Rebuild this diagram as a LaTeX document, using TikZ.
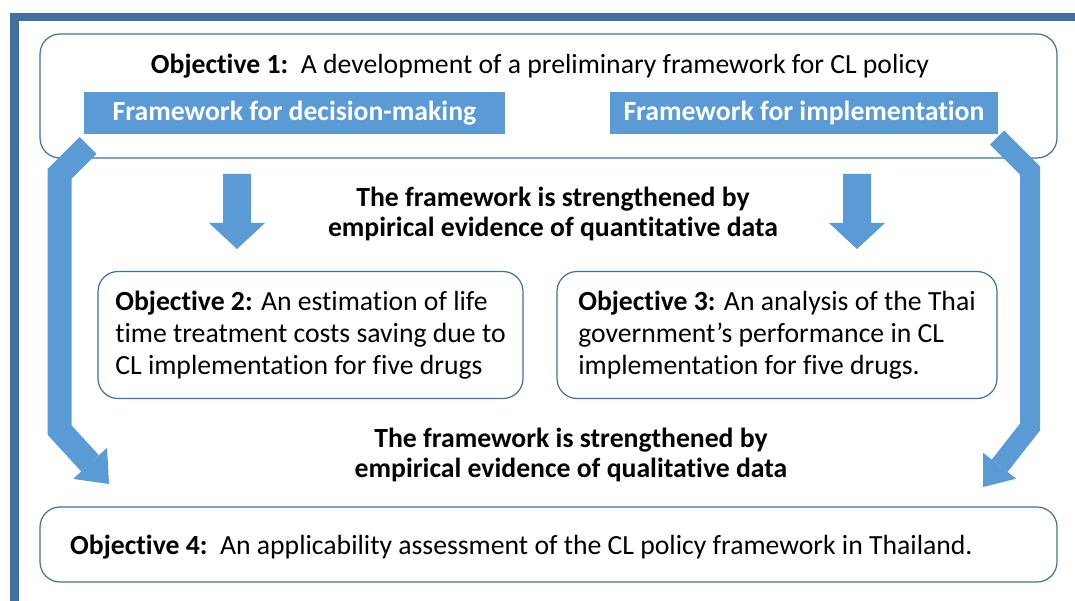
\documentclass[tikz,border=0pt]{standalone}
\usepackage{fontspec}
\setmainfont{Carlito}[Ligatures=NoCommon]
\usetikzlibrary{calc}
\definecolor{framec}{HTML}{41719C}
\definecolor{arrc}{HTML}{5B9BD5}
\definecolor{edgec}{HTML}{41719C}
\begin{document}
\begin{tikzpicture}[x=1pt,y=-1pt,
  objbox/.style={draw=edgec, line width=1.2pt, rounded corners=20pt, inner sep=0pt, fill=white},
  bluelabel/.style={fill=arrc, text=white, font=\bfseries\fontsize{27.7}{30}\selectfont, inner sep=0pt, text height=17pt, text depth=2pt},
  bodytxt/.style={font=\fontsize{27.7}{32}\selectfont, inner sep=0pt},
  midtxt/.style={font=\bfseries\fontsize{27.7}{30.5}\selectfont, align=center, inner sep=0pt},
  bentarrow/.style={draw=arrc, line join=miter, line cap=butt},
  downarrow/.pic={\fill[arrc] (-14,0) -- (14,0) -- (14,49) -- (28,49) -- (0,75) -- (-28,49) -- (-14,49) -- cycle;}
]
\useasboundingbox (0,0) rectangle (1075,601);
\fill[white] (0,0) rectangle (1075,601);
% frame bars
\fill[framec] (10,13) rectangle (1075,21);
\fill[framec] (10,13) rectangle (19,601);

% boxes
\node[objbox, minimum width=1017pt, minimum height=124pt] (obj1) at (548.5,96) {};
\node[bodytxt] (obj1t) at (540,66) {\textbf{Objective 1:}\ \ A development of a preliminary framework for CL policy};
\node[bluelabel, minimum width=421pt, minimum height=42pt] (fdm) at (294.5,113) {Framework for decision-making};
\node[bluelabel, minimum width=388pt, minimum height=42pt] (fimp) at (804,113) {Framework for implementation};

\node[objbox, bodytxt, align=left, minimum width=425pt, minimum height=127pt] (obj2) at (310.5,335)
  {\textbf{Objective 2:} An estimation of life\\time treatment costs saving due to\\CL implementation for five drugs};
\node[objbox, bodytxt, align=left, minimum width=440pt, minimum height=127pt] (obj3) at (777,335)
  {\textbf{Objective 3:} An analysis of the Thai\\government’s performance in CL\\implementation for five drugs.};

\node[objbox, minimum width=1017pt, minimum height=75pt] (obj4) at (548.5,544.5) {};
\node[bodytxt, anchor=west] (obj4t) at (70,547) {\textbf{Objective 4:}\ \ An applicability assessment of the CL policy framework in Thailand.};

% middle texts
\node[midtxt] (mid1) at (553,214) {The framework is strengthened by\\empirical evidence of quantitative data};
\node[midtxt] (mid2) at (571,455) {The framework is strengthened by\\empirical evidence of qualitative data};

% down arrows
\pic at (237,174) {downarrow};
\pic at (857,174) {downarrow};

% left bent arrow
\coordinate (L1) at (88,145.5);
\coordinate (L2) at (59.5,174);
\coordinate (L3) at (59.5,430);
\coordinate (Ltip) at (109,484);
\coordinate (Lbase) at ($(Ltip)!28pt!(L3)$);
\draw[bentarrow, line width=24pt] (L1) -- (L2) -- (L3) -- (Lbase);
\fill[arrc] (Ltip) -- ($(Lbase)!23pt!90:(Ltip)$) -- ($(Lbase)!23pt!-90:(Ltip)$) -- cycle;

% right bent arrow
\coordinate (R1) at (997,137.5);
\coordinate (R2) at (1030,170.5);
\coordinate (R3) at (1030,427);
\coordinate (Rtip) at (983,487);
\coordinate (Rbase) at ($(Rtip)!27pt!(R3)$);
\draw[bentarrow, line width=20pt] (R1) -- (R2) -- (R3) -- (Rbase);
\fill[arrc] (Rtip) -- ($(Rbase)!21pt!90:(Rtip)$) -- ($(Rbase)!21pt!-90:(Rtip)$) -- cycle;
\end{tikzpicture}
\end{document}
